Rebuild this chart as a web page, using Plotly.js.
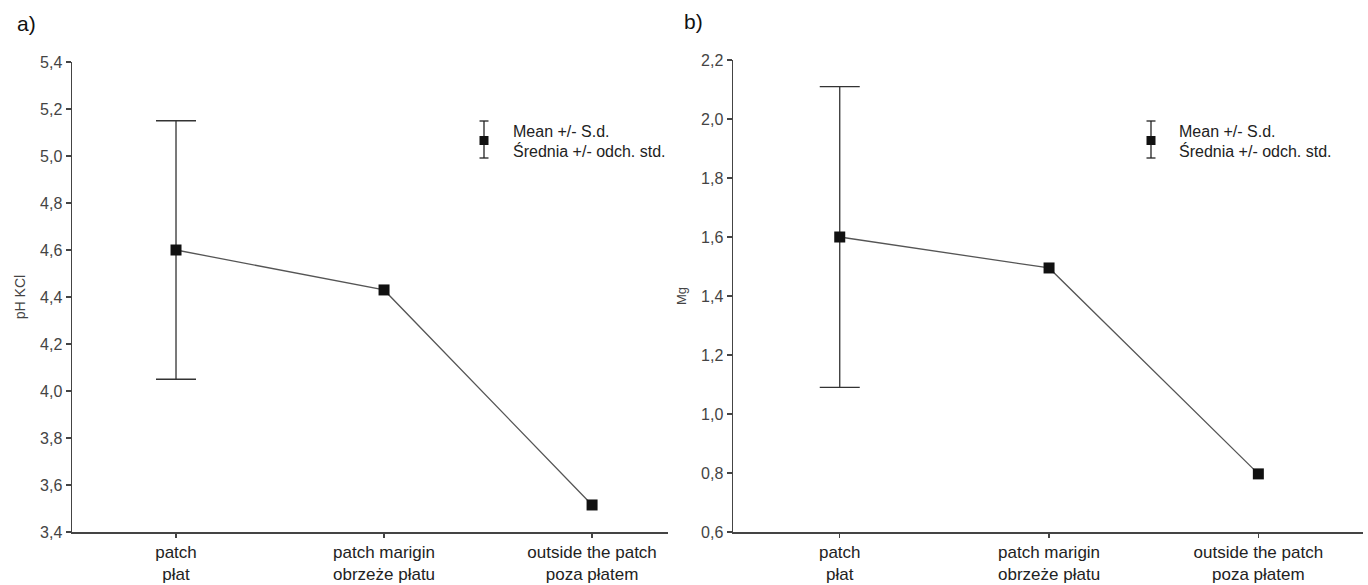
<!DOCTYPE html>
<html>
<head>
<meta charset="utf-8">
<script src="https://cdn.plot.ly/plotly-3.0.1.min.js"></script>
<style>
html,body{margin:0;padding:0;background:#fff;}
#chart{width:1368px;height:585px;}
</style>
</head>
<body>
<div id="chart"></div>
<script>
// ---- data ----
const categories = ["patch<br>płat", "patch marigin<br>obrzeże płatu", "outside the patch<br>poza płatem"];
const phMean = [4.60, 4.43, 3.515];
const phSD = [0.55, NaN, NaN];
const mgMean = [1.60, 1.495, 0.797];
const mgSD = [0.51, NaN, NaN];
const yTicksA = [3.4, 3.6, 3.8, 4.0, 4.2, 4.4, 4.6, 4.8, 5.0, 5.2, 5.4];
const yTicksB = [0.6, 0.8, 1.0, 1.2, 1.4, 1.6, 1.8, 2.0, 2.2];
const legendLines = ["Mean +/- S.d.", "Średnia +/- odch. std."];

// ---- layout helpers ----
const W = 1368, H = 585;
const px = v => v / W;
const py = v => 1 - v / H;
const axisCol = '#444';
const font = 'Liberation Sans, Arial, sans-serif';

function trace(y, sd, xa, ya) {
  return {
    x: categories, y: y, xaxis: xa, yaxis: ya,
    type: 'scatter', mode: 'lines+markers', showlegend: false,
    line: {color: '#555', width: 1.3},
    marker: {symbol: 'square', size: 11, color: '#111'},
    error_y: {type: 'data', array: sd, visible: true, color: '#333', thickness: 1.3, width: 20}
  };
}

const data = [trace(phMean, phSD, 'x', 'y'), trace(mgMean, mgSD, 'x2', 'y2')];

function xAxis(dom, rng, anchor) {
  return {
    domain: dom, range: rng, anchor: anchor, type: 'category',
    showline: true, linecolor: axisCol, linewidth: 1.5,
    ticks: 'outside', ticklen: 4, tickcolor: axisCol, tickwidth: 1.2,
    showgrid: false, zeroline: false,
    tickfont: {family: font, size: 17, color: '#222'}
  };
}
function yAxis(dom, rng, ticks, anchor, title, tsize) {
  return {
    domain: dom, range: rng, anchor: anchor,
    tickvals: ticks, tickformat: '.1f',
    showline: true, linecolor: axisCol, linewidth: 1.5,
    ticks: 'outside', ticklen: 5, tickcolor: axisCol, tickwidth: 1.2,
    showgrid: false, zeroline: false,
    tickfont: {family: font, size: 16, color: '#444'},
    title: {text: title, font: {family: font, size: tsize, color: '#444'}, standoff: 11}
  };
}

const shapes = [];
const annotations = [];
function legend(mx, tx) {
  const c = '#222';
  shapes.push({type: 'line', xref: 'paper', yref: 'paper', x0: px(mx), x1: px(mx), y0: py(121), y1: py(158), line: {color: c, width: 1.3}});
  shapes.push({type: 'line', xref: 'paper', yref: 'paper', x0: px(mx - 4.5), x1: px(mx + 4.5), y0: py(121), y1: py(121), line: {color: c, width: 1.3}});
  shapes.push({type: 'line', xref: 'paper', yref: 'paper', x0: px(mx - 4.5), x1: px(mx + 4.5), y0: py(158), y1: py(158), line: {color: c, width: 1.3}});
  shapes.push({type: 'rect', xref: 'paper', yref: 'paper', x0: px(mx - 4.5), x1: px(mx + 4.5), y0: py(145), y1: py(136), fillcolor: '#111', line: {width: 0}});
  legendLines.forEach((t, i) => {
    annotations.push({text: t, xref: 'paper', yref: 'paper', x: px(tx), y: py(131 + 20 * i),
      xanchor: 'left', yanchor: 'middle', showarrow: false,
      font: {family: font, size: 16, color: '#222'}});
  });
}
legend(484, 511);
legend(1151, 1177);

annotations.push({text: 'a)', xref: 'paper', yref: 'paper', x: px(15), y: py(24), xanchor: 'left', yanchor: 'middle', showarrow: false, font: {family: font, size: 21, color: '#111'}});
annotations.push({text: 'b)', xref: 'paper', yref: 'paper', x: px(682), y: py(22), xanchor: 'left', yanchor: 'middle', showarrow: false, font: {family: font, size: 21, color: '#111'}});

const layout = {
  width: W, height: H,
  margin: {l: 0, r: 0, t: 0, b: 0},
  paper_bgcolor: '#fff', plot_bgcolor: '#fff',
  separators: ',.',
  showlegend: false,
  xaxis: xAxis([px(72), px(668)], [-0.5, 2.365], 'y'),
  yaxis: yAxis([1 - 532 / H, 1 - 62 / H], [3.4, 5.4], yTicksA, 'x', 'pH KCl', 14),
  xaxis2: xAxis([px(733), px(1363)], [-0.51, 2.5], 'y2'),
  yaxis2: yAxis([1 - 532 / H, 1 - 60 / H], [0.6, 2.2], yTicksB, 'x2', 'Mg', 13),
  shapes: shapes,
  annotations: annotations
};

Plotly.newPlot('chart', data, layout, {displayModeBar: false, staticPlot: true});
</script>
</body>
</html>
